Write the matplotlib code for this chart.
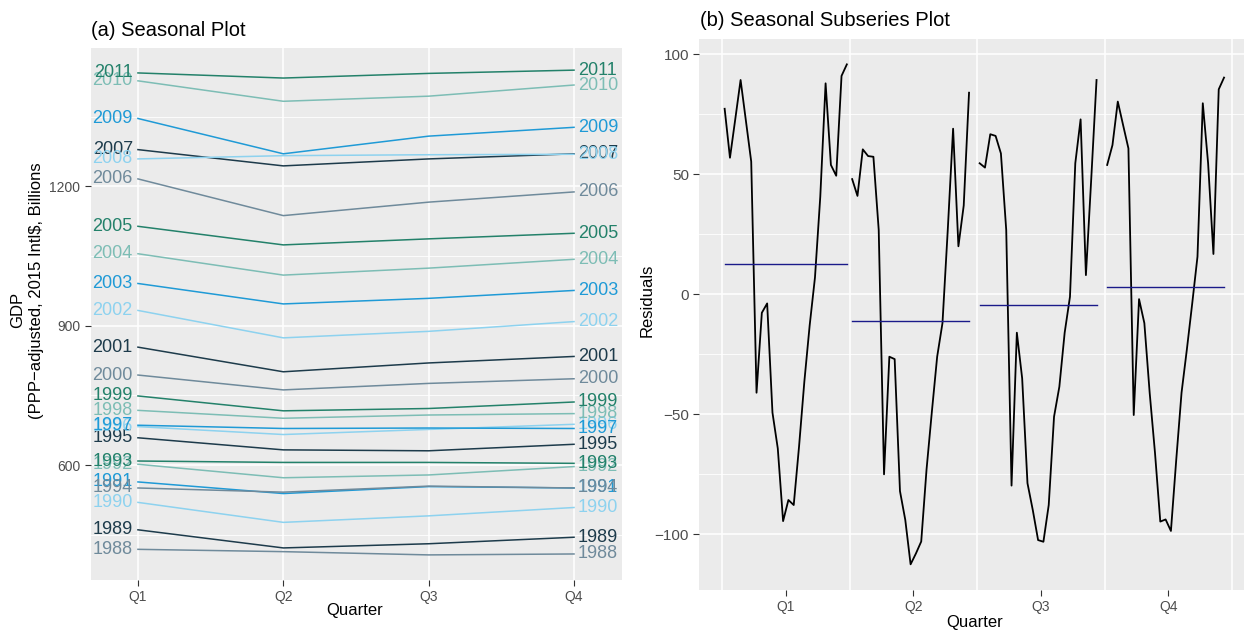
import numpy as np
import matplotlib
matplotlib.use("Agg")
import matplotlib.pyplot as plt

plt.rcParams['font.family'] = ['Liberation Sans', 'DejaVu Sans']

# data
years = list(range(1988, 2012))
quarters = ['Q1', 'Q2', 'Q3', 'Q4']

gdp_q1 = [419, 461, 520, 564, 602, 609, 551, 659, 683, 686, 718, 749,
          794, 854, 933, 991, 1055, 1114, 1216, 1279, 1259, 1346, 1427, 1444]
gdp_q2 = [414, 422, 477, 539, 573, 606, 542, 633, 666, 679, 701, 717,
          762, 801, 874, 947, 1009, 1074, 1137, 1244, 1266, 1270, 1383, 1433]
gdp_q3 = [407, 431, 491, 554, 579, 606, 555, 631, 677, 680, 708, 722,
          776, 820, 888, 959, 1024, 1087, 1166, 1259, 1268, 1308, 1394, 1443]
gdp_q4 = [409, 445, 509, 551, 597, 604, 551, 645, 688, 679, 711, 736,
          786, 834, 909, 976, 1043, 1099, 1188, 1270, 1269, 1327, 1418, 1450]

resid_q1 = [77.3, 56.9, 73, 89.3, 72.3, 55.3, -41, -7.7, -3.8, -49.3, -64.2, -94.5,
            -85.7, -87.8, -63.5, -36.4, -13, 7, 40.7, 87.9, 53.9, 49.4, 91, 95.8]
resid_q2 = [48, 41, 60.4, 57.6, 57.3, 26.8, -75, -26, -27, -82, -94, -112.5,
            -108, -103, -73, -49, -26, -12, 27, 69, 20, 37, 84]
resid_q3 = [54.6, 52.8, 66.7, 66, 58.7, 26.8, -79.7, -16, -35, -78.7, -89.9, -102.4,
            -103.1, -87.8, -51, -38.5, -16, -1, 54.6, 72.9, 8, 48, 89.3]
resid_q4 = [53.9, 62.2, 80.3, 70.5, 60.8, -50.3, -2, -12, -41, -66, -94.7, -93.8,
            -98.6, -69, -41, -23, -4, 15.7, 79.6, 54.6, 16.8, 85.4, 90.3]

# colour cycle used for the years (starts at 1988)
year_colors = ['#6f8a9b', '#1d3b4b', '#8dd2ef', '#1f9ad6', '#7dbdb5', '#23816a']

bg = '#EBEBEB'
tick_col = '#4D4D4D'

fig = plt.figure(figsize=(12.44, 6.3), dpi=100)
W, H = 1244, 630

# ---------- (a) seasonal plot ----------
ax1 = fig.add_axes([90.7 / W, 1 - 580 / H, (622 - 90.7) / W, (580 - 48.3) / H])
ax1.set_facecolor(bg)
for y in [450, 750, 1050, 1350]:
    ax1.axhline(y, color='white', lw=0.6, zorder=0)
for y in [600, 900, 1200]:
    ax1.axhline(y, color='white', lw=1.1, zorder=0)
for x in [1, 2, 3, 4]:
    ax1.axvline(x, color='white', lw=1.1, zorder=0)

gdp = np.array([gdp_q1, gdp_q2, gdp_q3, gdp_q4])
qx = np.arange(1, 5)
for i, yr in enumerate(years):
    c = year_colors[i % 6]
    ax1.plot(qx, gdp[:, i], color=c, lw=1.1)
    ax1.text(1 - 0.035, gdp[0, i], str(yr), color=c, fontsize=13,
             ha='right', va='center')
    ax1.text(4 + 0.028, gdp[3, i], str(yr), color=c, fontsize=13,
             ha='left', va='center')

ax1.set_xlim(0.675, 4.33)
ax1.set_ylim(353, 1497)
ax1.set_xticks(qx)
ax1.set_xticklabels(quarters)
ax1.set_yticks([600, 900, 1200])
ax1.tick_params(colors='#333333', labelcolor=tick_col, labelsize=10, length=4, width=0.8)
for s in ax1.spines.values():
    s.set_visible(False)

fig.text(91 / W, 1 - 30 / H, '(a) Seasonal Plot', fontsize=14.5, ha='left', va='center')
fig.text(355 / W, 1 - 610 / H, 'Quarter', fontsize=12, ha='center', va='center')
fig.text(18 / W, 1 - 310 / H, 'GDP', fontsize=12, rotation=90, ha='center', va='center')
fig.text(37 / W, 1 - 291 / H, '(PPP\u2212adjusted, 2015 Intl$, Billions', fontsize=12,
         rotation=90, ha='center', va='center')

# ---------- (b) seasonal subseries plot ----------
ax2 = fig.add_axes([699.3 / W, 1 - 590 / H, (W - 699.3) / W, (590 - 39.3) / H])
ax2.set_facecolor(bg)
for y in [-75, -25, 25, 75]:
    ax2.axhline(y, color='white', lw=0.6, zorder=0)
for y in [-100, -50, 0, 50, 100]:
    ax2.axhline(y, color='white', lw=1.1, zorder=0)
for x in [0.5, 1.5, 2.5, 3.5, 4.5]:
    ax2.axvline(x, color='white', lw=1.1, zorder=0)

for q, res in enumerate([resid_q1, resid_q2, resid_q3, resid_q4], start=1):
    res = np.array(res)
    xs = q - 0.5 + (np.arange(len(res)) + 0.5) / 24
    ax2.plot(xs, res, color='black', lw=1.3)
    ax2.plot([xs[0], xs[-1]], [res.mean(), res.mean()], color='#1a1a8a', lw=1.0)

ax2.set_xlim(0.322, 4.594)
ax2.set_ylim(-123.2, 106.25)
ax2.set_xticks([1, 2, 3, 4])
ax2.set_xticklabels(quarters)
ax2.set_yticks([-100, -50, 0, 50, 100])
ax2.tick_params(colors='#333333', labelcolor=tick_col, length=4, width=0.8)
ax2.tick_params(axis='x', labelsize=10)
ax2.tick_params(axis='y', labelsize=11)
for s in ax2.spines.values():
    s.set_visible(False)

fig.text(700 / W, 1 - 20 / H, '(b) Seasonal Subseries Plot', fontsize=14.5,
         ha='left', va='center')
fig.text(975 / W, 1 - 622 / H, 'Quarter', fontsize=12, ha='center', va='center')
fig.text(647 / W, 1 - 300 / H, 'Residuals', fontsize=12, rotation=90,
         ha='center', va='center')

fig.savefig('out.png', dpi=100)
